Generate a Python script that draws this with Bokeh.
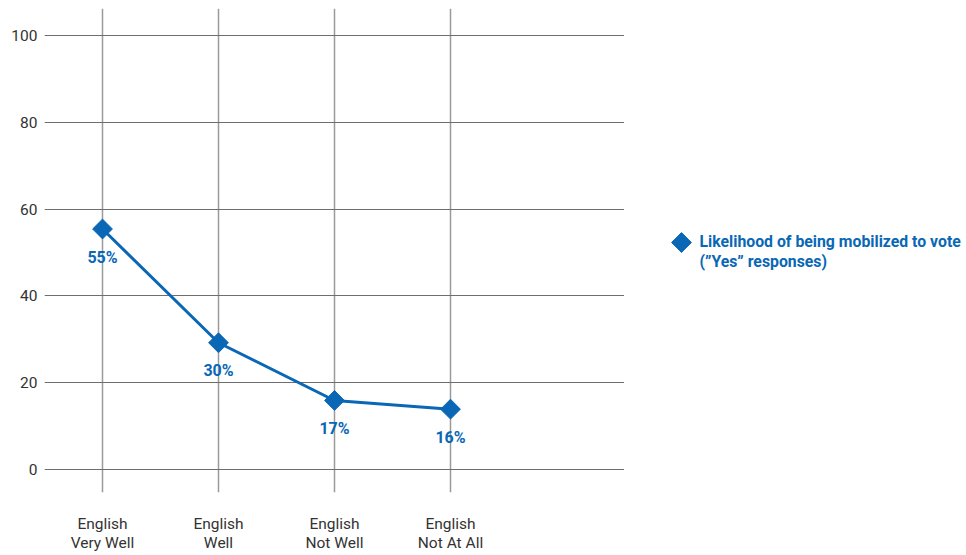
import math
from bokeh.plotting import figure
from bokeh.layouts import row
from bokeh.models import ColumnDataSource, FixedTicker, Range1d
from bokeh.core.properties import value
from bokeh.embed import file_html
from bokeh.resources import INLINE

categories = ["English\nVery Well", "English\nWell", "English\nNot Well", "English\nNot At All"]
yes_values = [55.4, 29.2, 15.9, 13.9]
value_labels = ["55%", "30%", "17%", "16%"]
y_ticks = [0, 20, 40, 60, 80, 100]
series_name = "Likelihood of being mobilized to vote\n(\u201dYes\u201d responses)"

BLUE = "#0967B5"
FONT = "Roboto"
FRAME_H = 484

xs = list(range(len(categories)))
src = ColumnDataSource(dict(x=xs, y=yes_values, lab=value_labels))

p = figure(frame_width=580, frame_height=FRAME_H, output_backend="svg", toolbar_location=None,
           x_range=Range1d(-0.5, 4.5), y_range=Range1d(-5.3, 106.2),
           min_border_left=44, min_border_top=8, min_border_bottom=55, min_border_right=0)
p.outline_line_color = None
p.background_fill_color = "white"

p.line("x", "y", source=src, line_color=BLUE, line_width=3)
p.scatter("x", "y", source=src, marker="square", size=14, angle=math.pi / 4,
          fill_color=BLUE, line_color=BLUE)
p.text("x", "y", text="lab", source=src, text_font=value(FONT), text_font_style="bold",
       text_font_size="16px", text_color=BLUE, text_align="center", text_baseline="middle",
       y_offset=28)

# axes
p.yaxis.ticker = FixedTicker(ticks=y_ticks)
p.yaxis.axis_line_color = None
p.yaxis.major_tick_line_color = None
p.yaxis.minor_tick_line_color = None
p.yaxis.major_label_standoff = 1
p.yaxis.major_label_text_font = FONT
p.yaxis.major_label_text_font_size = "15.5px"
p.yaxis.major_label_text_color = "#333333"

p.xaxis.ticker = FixedTicker(ticks=xs)
p.xaxis.major_label_overrides = {i: c for i, c in zip(xs, categories)}
p.xaxis.axis_line_color = None
p.xaxis.major_tick_line_color = None
p.xaxis.minor_tick_line_color = None
p.xaxis.major_label_standoff = 16
p.xaxis.major_label_text_font = FONT
p.xaxis.major_label_text_font_size = "15.5px"
p.xaxis.major_label_text_color = "#333333"
p.xaxis.major_label_text_line_height = 1.1

p.ygrid.grid_line_color = "#6e6e6e"
p.ygrid.grid_line_width = 1
p.xgrid.grid_line_color = "#9a9a9a"
p.xgrid.grid_line_width = 1.5

# legend panel (pixel-space figure to the right of the plot, frame aligned with the plot's)
LG_W = 337
lg = figure(width=LG_W, frame_height=FRAME_H, output_backend="svg", toolbar_location=None,
            x_range=Range1d(0, LG_W), y_range=Range1d(FRAME_H, 0),
            min_border_left=0, min_border_right=0, min_border_top=8, min_border_bottom=55)
lg.axis.visible = False
lg.grid.visible = False
lg.outline_line_color = None
lg.scatter(x=[57], y=[234], marker="square", size=14, angle=math.pi / 4,
           fill_color=BLUE, line_color=BLUE)
lg.text(x=[75], y=[243], text=[series_name], text_font=value(FONT), text_font_style="bold",
        text_font_size="15.8px", text_color=BLUE, text_align="left", text_baseline="middle",
        text_line_height=1.1)

layout = row(p, lg, spacing=0)
open("out.html", "w").write(file_html(layout, INLINE))
